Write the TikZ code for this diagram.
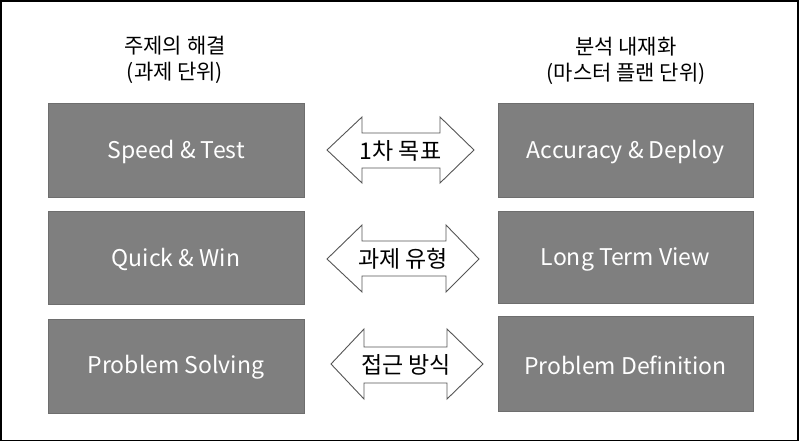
\documentclass[tikz,border=0pt]{standalone}
\usepackage{fontspec}
\setmainfont{Noto Sans CJK KR}
\begin{document}
\begin{tikzpicture}[x=1pt,y=-1pt,
  box/.style={fill=boxgray,draw=boxedge,line width=0.8pt},
  boxtext/.style={text=white,font=\fontsize{23}{27}\selectfont},
  head/.style={font=\fontsize{21}{26}\selectfont,align=center,text=black},
  dblarrow/.style={fill=white,draw=arrowedge,line width=0.9pt,line join=miter},
  arrowtext/.style={font=\fontsize{23}{26}\selectfont,text=black}]
\definecolor{boxgray}{HTML}{7F7F7F}
\definecolor{boxedge}{HTML}{6E6E6E}
\definecolor{arrowedge}{HTML}{555555}
\useasboundingbox (0,0) rectangle (800,442);
\draw[line width=1.6pt,black] (0.8,0.8) rectangle (798.2,440.6);
% headers
\node[head] (hl) at (175,60) {주제의 해결\\(과제 단위)};
\node[head] (hr) at (626,61) {분석 내재화\\(마스터 플랜 단위)};
% left boxes
\draw[box] (48,103) rectangle (304,197);
\node[boxtext] (l1) at (176,152) {Speed \& Test};
\draw[box] (48,211) rectangle (304,304);
\node[boxtext] (l2) at (176,259) {Quick \& Win};
\draw[box] (48,319) rectangle (304,413);
\node[boxtext] (l3) at (176,367) {Problem Solving};
% right boxes
\draw[box] (498,103) rectangle (753,197);
\node[boxtext] (r1) at (625.5,152) {Accuracy \& Deploy};
\draw[box] (498,211) rectangle (753,303);
\node[boxtext] (r2) at (625.5,259) {Long Term View};
\draw[box] (498,316) rectangle (753,411);
\node[boxtext] (r3) at (625.5,365) {Problem Definition};
% arrows
\draw[dblarrow] (327,150) -- (362,117) -- (362,133) -- (440,133) -- (440,117) -- (474,150)
  -- (440,183) -- (440,168) -- (362,168) -- (362,183) -- cycle;
\node[arrowtext] (a1) at (400.5,151) {1차 목표};
\draw[dblarrow] (327,259) -- (362,225) -- (362,241) -- (446,241) -- (446,225) -- (479,259)
  -- (446,292) -- (446,276) -- (362,276) -- (362,292) -- cycle;
\node[arrowtext] (a2) at (403,259) {과제 유형};
\draw[dblarrow] (331,364) -- (364,329) -- (364,347) -- (447,347) -- (447,329) -- (483,364)
  -- (447,399) -- (447,383) -- (364,383) -- (364,399) -- cycle;
\node[arrowtext] (a3) at (406,365) {접근 방식};
\end{tikzpicture}
\end{document}
